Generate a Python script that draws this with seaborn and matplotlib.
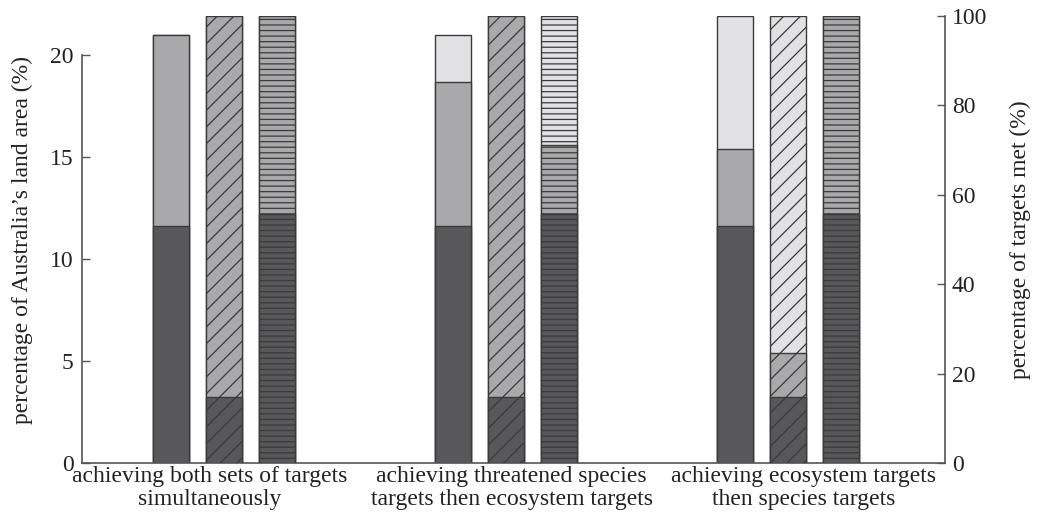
import matplotlib
matplotlib.use("Agg")
import matplotlib.pyplot as plt
import seaborn as sns
import pandas as pd
import numpy as np

# ---- data ----
scenarios = ["achieving both sets of targets\nsimultaneously",
             "achieving threatened species\ntargets then ecosystem targets",
             "achieving ecosystem targets\nthen species targets"]
bar_types = ["area", "species", "ecosystem"]

# left axis: percentage of land area (segment heights, bottom -> top)
area_dark = [11.6, 11.6, 11.6]
area_mid = [9.4, 7.1, 3.8]
area_light = [0.0, 2.3, 6.5]
# right axis: percentage of targets met (segment heights)
species_dark = [14.8, 14.8, 14.8]
species_mid = [85.2, 85.2, 9.8]
species_light = [0.0, 0.0, 75.4]
eco_dark = [55.7, 55.7, 55.7]
eco_mid = [44.3, 15.4, 44.3]
eco_light = [0.0, 28.9, 0.0]

left_ticks = [0, 5, 10, 15, 20]
right_ticks = [0, 20, 40, 60, 80, 100]

# ---- style ----
sns.set_theme(style="ticks")
plt.rcParams['font.family'] = ['Liberation Serif', 'DejaVu Serif']
plt.rcParams['hatch.color'] = '#3a3a3a'
plt.rcParams['hatch.linewidth'] = 0.9

c_dark = '#58585a'
c_mid = '#a9a9ab'
c_light = '#e2e2e4'
c_edge = '#3a3a3a'
c_axis = '#555555'
c_text = '#222222'
fs_tick = 17
fs_cat = 17
fs_lab = 17

fig = plt.figure(figsize=(10.38, 5.26), dpi=100)
ax = fig.add_axes([82/1038, 1-463/526, (945-82)/1038, (463-16)/526])
ax2 = ax.twinx()

hatches = {"area": "", "species": "//", "ecosystem": "---"}


def layers(dark, mid, light):
    d = np.array(dark); m = np.array(mid); l = np.array(light)
    return [(d + m + l, c_light), (d + m, c_mid), (d, c_dark)]


series = {
    "area": (ax, layers(area_dark, area_mid, area_light)),
    "species": (ax2, layers(species_dark, species_mid, species_light)),
    "ecosystem": (ax2, layers(eco_dark, eco_mid, eco_light)),
}

for bt, (axis, lays) in series.items():
    for vals, col in lays:
        df = pd.DataFrame({"scenario": scenarios, "value": vals, "bar": bt})
        sns.barplot(data=df, x="scenario", y="value", hue="bar",
                    hue_order=bar_types, order=scenarios, dodge=True,
                    width=0.564, gap=0.32, palette={b: col for b in bar_types},
                    edgecolor=c_edge, linewidth=1.0, hatch=hatches[bt],
                    legend=False, ax=axis, errorbar=None)

ax.set_xlim(-0.503, 2.555)
ax.set_ylim(0, 21.92)
ax2.set_ylim(0, 100)

# category labels sit slightly off the group centres in the original
ax.set_xticks([-0.05, 1.02, 2.053])
ax.set_xticklabels(scenarios)

ax.set_yticks(left_ticks)
ax2.set_yticks(right_ticks)
ax.tick_params(axis='y', direction='in', length=6, width=1, color=c_axis,
               labelsize=fs_tick, pad=6, labelcolor=c_text)
ax2.tick_params(axis='y', direction='in', length=6, width=1, color=c_axis,
                labelsize=fs_tick, pad=5, labelcolor=c_text)
ax.tick_params(axis='x', length=0, labelsize=fs_cat, pad=2, labelcolor=c_text)
ax2.tick_params(axis='x', length=0)

for a in (ax, ax2):
    a.spines['top'].set_visible(False)
    for s in a.spines.values():
        s.set_color(c_axis)
        s.set_linewidth(1.2)
ax.spines['right'].set_visible(False)
ax2.spines['left'].set_visible(False)
ax2.spines['bottom'].set_visible(False)
ax.spines['left'].set_bounds(0, 20)

ax.set_xlabel("")
ax2.set_xlabel("")
ax.set_ylabel("percentage of Australia\u2019s land area (%)", fontsize=fs_lab,
              color=c_text, labelpad=12)
ax2.set_ylabel("percentage of targets met (%)", fontsize=fs_lab, color=c_text,
               labelpad=16, rotation=90)

for t in ax.get_xticklabels():
    t.set_linespacing(1.15)

fig.savefig("out.png", dpi=100)
